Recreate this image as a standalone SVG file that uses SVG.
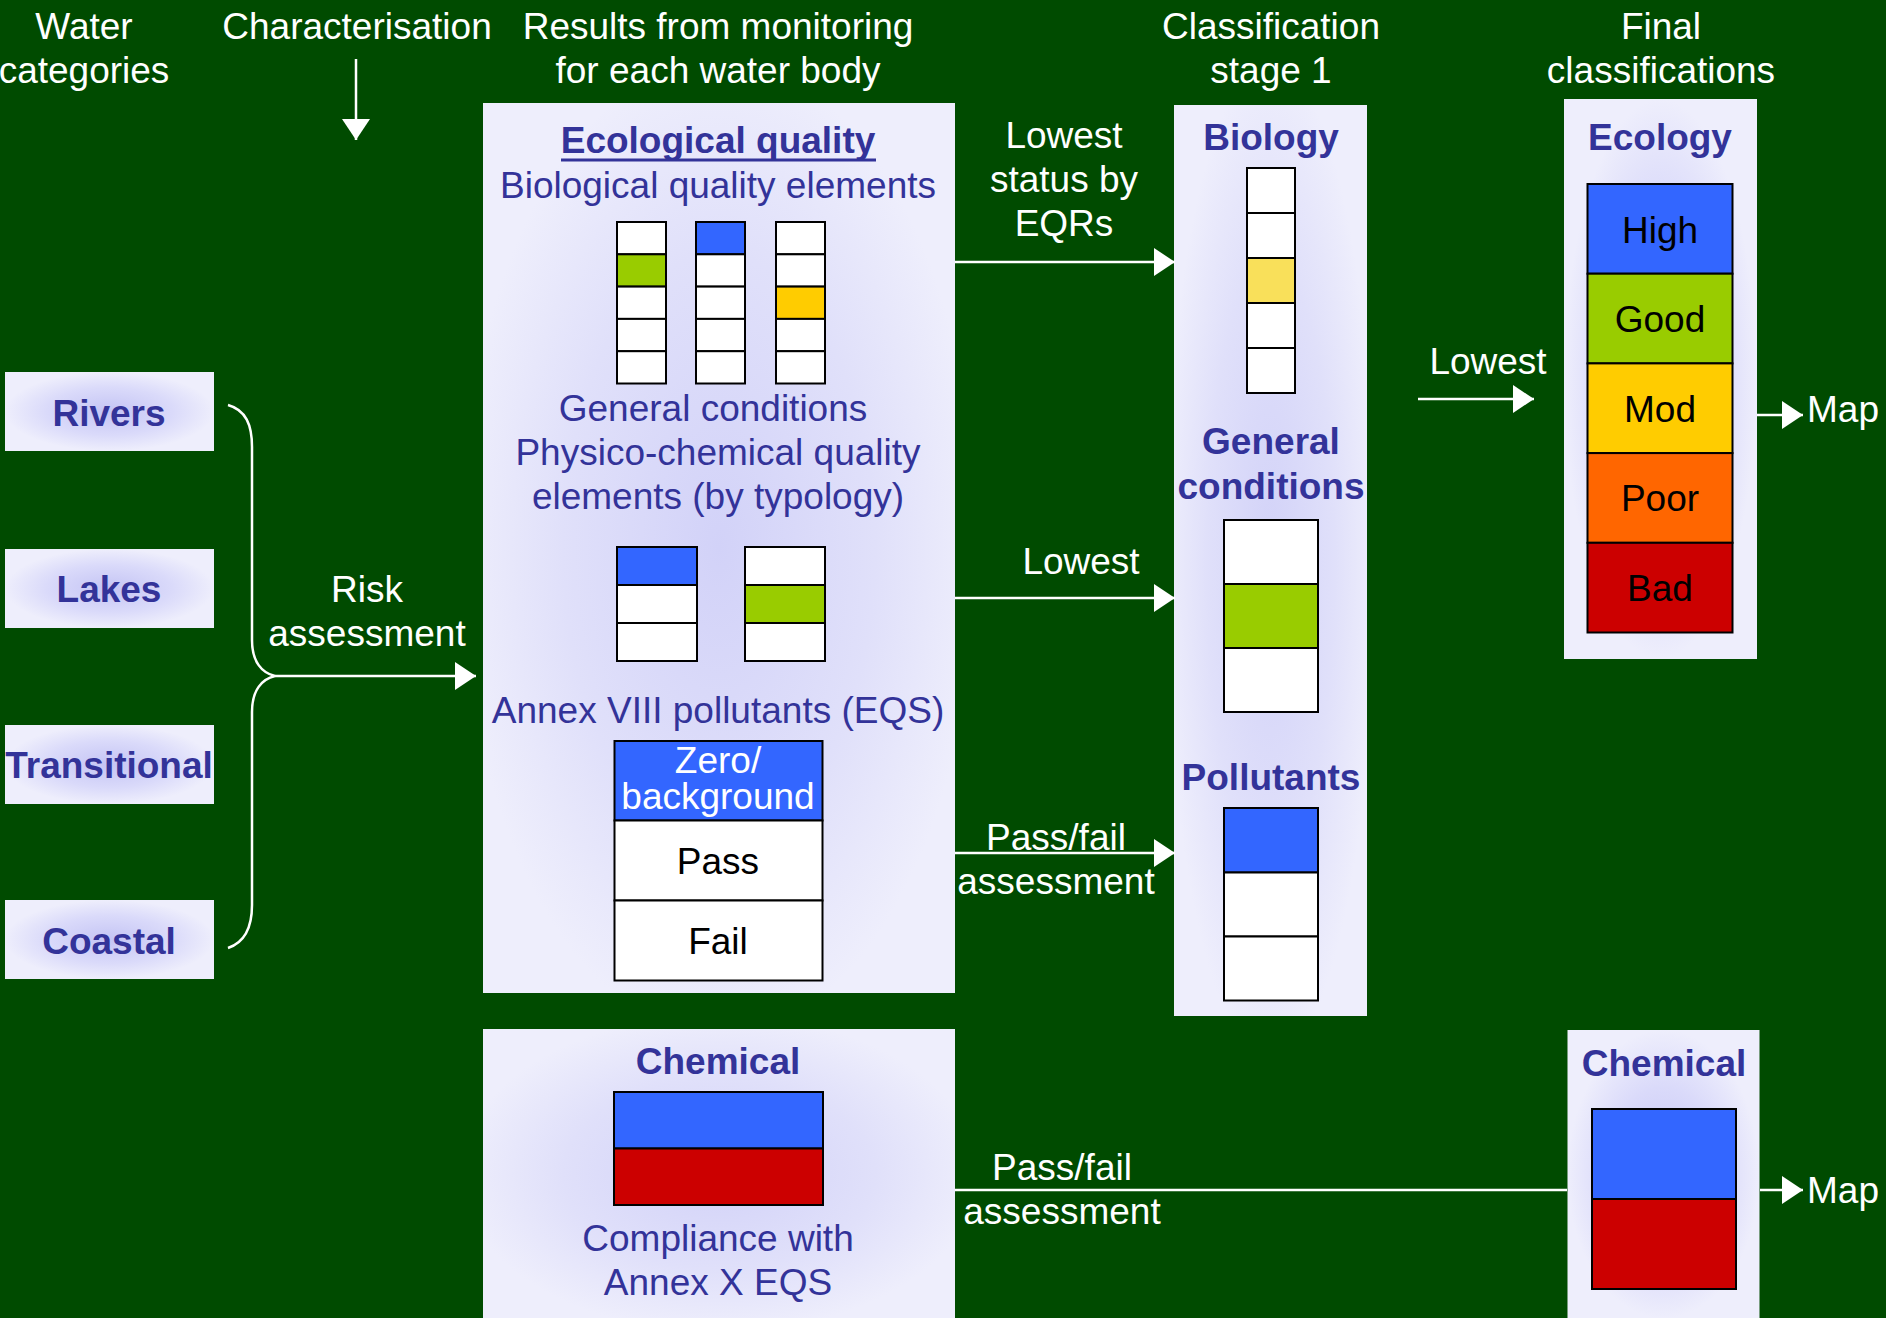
<svg xmlns="http://www.w3.org/2000/svg" width="1886" height="1318" viewBox="0 0 1886 1318">
<defs>
<style>
text{font-family:"Liberation Sans",Arial,sans-serif;font-size:37px;text-anchor:middle}
.w{fill:#ffffff}
.b{fill:#333399}
.k{fill:#000000}
.bold{font-weight:bold}
.st{text-anchor:start}
.sbox{fill:url(#glowS)}
.bbox{fill:url(#glowB)}
.cell{stroke:#000;stroke-width:2}
.wh{fill:#ffffff}
.blue{fill:#3366FF}
.green{fill:#99CC00}
.gold{fill:#FFCC00}
.lyel{fill:#F9E05A}
.orange{fill:#FF6600}
.red{fill:#CC0000}
.conn{stroke:#ffffff;stroke-width:2.5;fill:none}
</style>
<radialGradient id="glowS" cx="0.5" cy="0.5" r="0.5">
<stop offset="0" stop-color="#C4C4F4"/>
<stop offset="0.6" stop-color="#DADAFA"/>
<stop offset="1" stop-color="#EEEEFC"/>
</radialGradient>
<radialGradient id="glowB" cx="0.5" cy="0.5" r="0.55">
<stop offset="0" stop-color="#D2D2F8"/>
<stop offset="0.6" stop-color="#E0E0FA"/>
<stop offset="1" stop-color="#EEEEFC"/>
</radialGradient>
<marker id="ah" markerUnits="userSpaceOnUse" markerWidth="22" markerHeight="28" refX="21" refY="14" orient="auto">
<path d="M0,0 L21,14 L0,28 Z" fill="#ffffff"/>
</marker>
</defs>
<rect x="0" y="0" width="1886" height="1318" fill="#004B00"/>

<g id="headers">
<text class="w" x="84" y="39">Water</text>
<text class="w" x="84" y="83">categories</text>
<text class="w" x="357" y="39">Characterisation</text>
<text class="w" x="718" y="39">Results from monitoring</text>
<text class="w" x="718" y="83">for each water body</text>
<text class="w" x="1271" y="39">Classification</text>
<text class="w" x="1271" y="83">stage 1</text>
<text class="w" x="1661" y="39">Final</text>
<text class="w" x="1661" y="83">classifications</text>
</g>

<g id="rivers"><rect class="sbox" x="5" y="372" width="209" height="79"/><text class="b bold" x="109" y="426">Rivers</text></g>
<g id="lakes"><rect class="sbox" x="5" y="549" width="209" height="79"/><text class="b bold" x="109" y="602">Lakes</text></g>
<g id="transitional"><rect class="sbox" x="5" y="725" width="209" height="79"/><text class="b bold" x="109" y="778">Transitional</text></g>
<g id="coastal"><rect class="sbox" x="5" y="900" width="209" height="79"/><text class="b bold" x="109" y="954">Coastal</text></g>

<g id="results">
<rect class="bbox" x="483" y="103" width="472" height="890"/>
<text class="b bold" x="718" y="153">Ecological quality</text>
<line x1="561" y1="160" x2="876" y2="160" stroke="#333399" stroke-width="3"/>
<text class="b" x="718" y="198">Biological quality elements</text>
<g class="cell">
<rect class="wh" x="617" y="222" width="49" height="32.3"/>
<rect class="green" x="617" y="254.3" width="49" height="32.3"/>
<rect class="wh" x="617" y="286.6" width="49" height="32.3"/>
<rect class="wh" x="617" y="318.9" width="49" height="32.3"/>
<rect class="wh" x="617" y="351.2" width="49" height="32.3"/>
<rect class="blue" x="696" y="222" width="49" height="32.3"/>
<rect class="wh" x="696" y="254.3" width="49" height="32.3"/>
<rect class="wh" x="696" y="286.6" width="49" height="32.3"/>
<rect class="wh" x="696" y="318.9" width="49" height="32.3"/>
<rect class="wh" x="696" y="351.2" width="49" height="32.3"/>
<rect class="wh" x="776" y="222" width="49" height="32.3"/>
<rect class="wh" x="776" y="254.3" width="49" height="32.3"/>
<rect class="gold" x="776" y="286.6" width="49" height="32.3"/>
<rect class="wh" x="776" y="318.9" width="49" height="32.3"/>
<rect class="wh" x="776" y="351.2" width="49" height="32.3"/>
</g>
<text class="b" x="713" y="421">General conditions</text>
<text class="b" x="718" y="465">Physico-chemical quality</text>
<text class="b" x="718" y="509">elements (by typology)</text>
<g class="cell">
<rect class="blue" x="617" y="547" width="80" height="38"/>
<rect class="wh" x="617" y="585" width="80" height="38"/>
<rect class="wh" x="617" y="623" width="80" height="38"/>
<rect class="wh" x="745" y="547" width="80" height="38"/>
<rect class="green" x="745" y="585" width="80" height="38"/>
<rect class="wh" x="745" y="623" width="80" height="38"/>
</g>
<text class="b" x="718" y="723">Annex VIII pollutants (EQS)</text>
<g class="cell">
<rect class="blue" x="614.5" y="741" width="208" height="79.5"/>
<rect class="wh" x="614.5" y="820.5" width="208" height="80"/>
<rect class="wh" x="614.5" y="900.5" width="208" height="80"/>
</g>
<text class="w" x="718" y="773">Zero/</text>
<text class="w" x="718" y="809">background</text>
<text class="k" x="718" y="874">Pass</text>
<text class="k" x="718" y="954">Fail</text>
</g>

<g id="chemical-results">
<rect class="bbox" x="483" y="1029" width="472" height="289"/>
<text class="b bold" x="718" y="1074">Chemical</text>
<g class="cell">
<rect class="blue" x="614" y="1092" width="209" height="56.5"/>
<rect class="red" x="614" y="1148.5" width="209" height="56.5"/>
</g>
<text class="b" x="718" y="1251">Compliance with</text>
<text class="b" x="718" y="1295">Annex X EQS</text>
</g>

<g id="stage1">
<rect class="bbox" x="1174" y="105" width="193" height="911"/>
<text class="b bold" x="1271" y="150">Biology</text>
<g class="cell">
<rect class="wh" x="1247" y="168" width="48" height="45"/>
<rect class="wh" x="1247" y="213" width="48" height="45"/>
<rect class="lyel" x="1247" y="258" width="48" height="45"/>
<rect class="wh" x="1247" y="303" width="48" height="45"/>
<rect class="wh" x="1247" y="348" width="48" height="45"/>
</g>
<text class="b bold" x="1271" y="454">General</text>
<text class="b bold" x="1271" y="499">conditions</text>
<g class="cell">
<rect class="wh" x="1224" y="520" width="94" height="64"/>
<rect class="green" x="1224" y="584" width="94" height="64"/>
<rect class="wh" x="1224" y="648" width="94" height="64"/>
</g>
<text class="b bold" x="1271" y="790">Pollutants</text>
<g class="cell">
<rect class="blue" x="1224" y="808" width="94" height="64.5"/>
<rect class="wh" x="1224" y="872.5" width="94" height="64"/>
<rect class="wh" x="1224" y="936.5" width="94" height="64"/>
</g>
</g>

<g id="ecology-final">
<rect class="sbox" x="1564" y="99" width="193" height="560"/>
<text class="b bold" x="1660" y="150">Ecology</text>
<g class="cell">
<rect class="blue" x="1587.5" y="184" width="145" height="89.7"/>
<rect class="green" x="1587.5" y="273.7" width="145" height="89.7"/>
<rect class="gold" x="1587.5" y="363.4" width="145" height="89.7"/>
<rect class="orange" x="1587.5" y="453.1" width="145" height="89.7"/>
<rect class="red" x="1587.5" y="542.8" width="145" height="89.7"/>
</g>
<text class="k" x="1660" y="242.5">High</text>
<text class="k" x="1660" y="332">Good</text>
<text class="k" x="1660" y="421.5">Mod</text>
<text class="k" x="1660" y="511">Poor</text>
<text class="k" x="1660" y="600.5">Bad</text>
</g>

<g id="chemical-final">
<rect class="sbox" x="1567.5" y="1030" width="192" height="288"/>
<text class="b bold" x="1664" y="1076">Chemical</text>
<g class="cell">
<rect class="blue" x="1592" y="1109" width="144" height="90"/>
<rect class="red" x="1592" y="1199" width="144" height="90"/>
</g>
</g>

<g id="connectors">
<line class="conn" x1="356" y1="59" x2="356" y2="140" marker-end="url(#ah)"/>
<path class="conn" d="M228,405 C246,410 252,425 252,447 L252,640 C252,662 262,673 275,676 C262,679 252,690 252,712 L252,905 C252,926 246,942 228,948"/>
<line class="conn" x1="275" y1="676" x2="476" y2="676" marker-end="url(#ah)"/>
<text class="w" x="367" y="602">Risk</text>
<text class="w" x="367" y="646">assessment</text>

<line class="conn" x1="955" y1="262" x2="1175" y2="262" marker-end="url(#ah)"/>
<text class="w" x="1064" y="148">Lowest</text>
<text class="w" x="1064" y="192">status by</text>
<text class="w" x="1064" y="236">EQRs</text>

<line class="conn" x1="955" y1="598" x2="1175" y2="598" marker-end="url(#ah)"/>
<text class="w" x="1081" y="574">Lowest</text>

<line class="conn" x1="955" y1="853" x2="1175" y2="853" marker-end="url(#ah)"/>
<text class="w" x="1056" y="850">Pass/fail</text>
<text class="w" x="1056" y="894">assessment</text>

<line class="conn" x1="955" y1="1190" x2="1567" y2="1190"/>
<text class="w" x="1062" y="1180">Pass/fail</text>
<text class="w" x="1062" y="1224">assessment</text>

<line class="conn" x1="1418" y1="399" x2="1534" y2="399" marker-end="url(#ah)"/>
<text class="w" x="1488" y="374">Lowest</text>

<line class="conn" x1="1757" y1="415" x2="1803" y2="415" marker-end="url(#ah)"/>
<text class="w st" x="1807" y="422">Map</text>

<line class="conn" x1="1760" y1="1190" x2="1803" y2="1190" marker-end="url(#ah)"/>
<text class="w st" x="1807" y="1203">Map</text>
</g>
</svg>
